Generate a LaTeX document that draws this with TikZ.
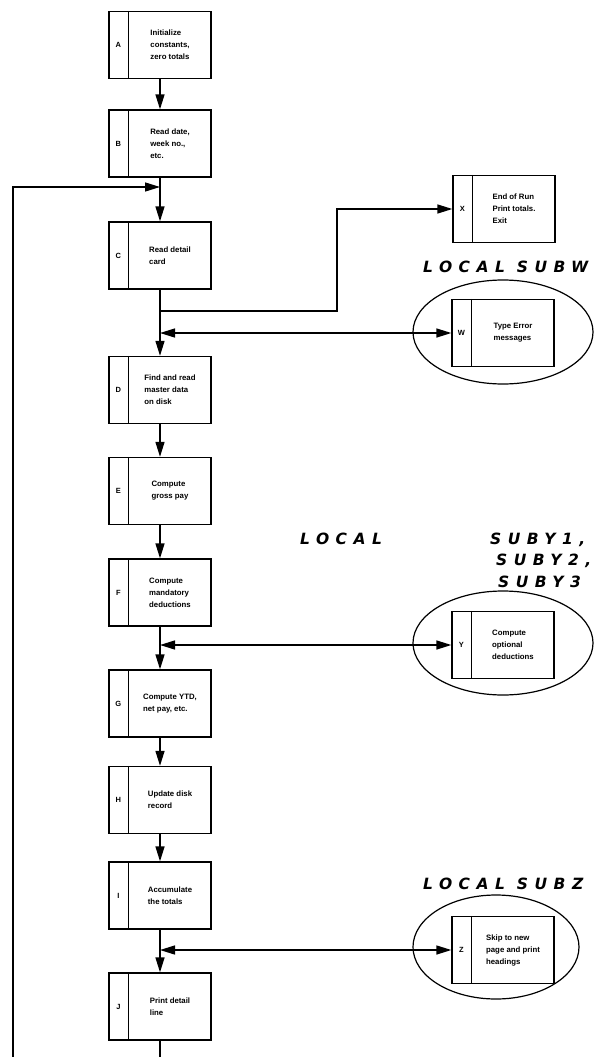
\documentclass[tikz,border=0pt]{standalone}
\usepackage{fontspec}
\setmainfont{Liberation Sans}
\newfontfamily\handfont[LetterSpace=42]{DejaVu Sans}
\usetikzlibrary{arrows.meta,positioning,shapes.geometric,calc}

% one process box: name, letter, x, y, text
\newcommand{\prcbox}[5]{%
  \node[prc] (#1) at (#3,#4) {};
  \draw[prcline] ([xshift=20pt]#1.north west) -- ([xshift=20pt]#1.south west);
  \node[tagtxt] (#1-tag) at ([xshift=10pt]#1.west) {#2};
  \node[prctxt] (#1-txt) at ([xshift=10pt]#1.center) {#5};
}

\begin{document}
\begin{tikzpicture}[x=1pt, y=-1pt, >={Triangle[length=15pt,width=9pt]},
    prc/.style={draw, line width=1.3pt, minimum width=102pt, minimum height=67pt, inner sep=0pt},
    prcline/.style={line width=1.2pt},
    tagtxt/.style={font=\bfseries\fontsize{7.5}{9}\selectfont, inner sep=0pt},
    prctxt/.style={font=\bfseries\fontsize{7.8}{12}\selectfont, align=left, inner sep=0pt},
    flow/.style={line width=1.4pt, ->},
    plain/.style={line width=1.4pt},
    twoway/.style={line width=1.4pt, <->},
    ring/.style={draw, ellipse, line width=1.2pt, inner sep=0pt},
    hand/.style={font=\handfont\bfseries\itshape\fontsize{15.5}{21}\selectfont, inner sep=0pt}]
    \useasboundingbox (0,0) rectangle (598,1057);
    \def\mx{160}    % main column
    \def\sx{503}    % side column

    % Main column
    \prcbox{A}{A}{\mx}{45}{Initialize\\constants,\\zero totals}
    \prcbox{B}{B}{\mx}{143.5}{Read date,\\week no.,\\etc.}
    \prcbox{C}{C}{\mx}{255.5}{Read detail\\card}
    \prcbox{D}{D}{\mx}{390}{Find and read\\master data\\on disk}
    \prcbox{E}{E}{\mx}{491}{Compute\\gross pay}
    \prcbox{F}{F}{\mx}{592.5}{Compute\\mandatory\\deductions}
    \prcbox{G}{G}{\mx}{703.5}{Compute YTD,\\net pay, etc.}
    \prcbox{H}{H}{\mx}{800}{Update disk\\record}
    \prcbox{I}{I}{\mx}{895.5}{Accumulate\\the totals}
    \prcbox{J}{J}{\mx}{1006.5}{Print detail\\line}

    % Side boxes
    \prcbox{X}{X}{504}{209}{End of Run\\Print totals.\\Exit}
    \node[ring, minimum width=180pt, minimum height=104pt] (Wring) at (503,332) {};
    \prcbox{W}{W}{\sx}{333}{Type Error\\messages}
    \node[ring, minimum width=180pt, minimum height=104pt] (Yring) at (503,643) {};
    \prcbox{Y}{Y}{\sx}{645}{Compute\\optional\\deductions}
    \node[ring, minimum width=166pt, minimum height=104pt] (Zring) at (496,947) {};
    \prcbox{Z}{Z}{\sx}{950}{Skip to new\\page and print\\headings}

    % Local subroutine labels
    \node[hand, anchor=base west] (subw) at (423,272) {LOCAL\hspace{12pt}SUBW};
    \node[hand, anchor=base west] (suby0) at (300,544) {LOCAL};
    \node[hand, anchor=base west] (suby1) at (490,544) {SUBY1,};
    \node[hand, anchor=base west] (suby2) at (496,565) {SUBY2,};
    \node[hand, anchor=base west] (suby3) at (498,587) {SUBY3};
    \node[hand, anchor=base west] (subz) at (423,889) {LOCAL\hspace{12pt}SUBZ};

    % Junctions on the main line
    \coordinate (loopIn) at (\mx,187);
    \coordinate (loopFoot) at (13,1057);
    \coordinate (jFoot) at (\mx,1057);
    \coordinate (xOut) at (\mx,311);
    \coordinate (xBend) at (337,311);

    % Main flow
    \draw[flow] (A.south) -- (B.north);
    \draw[flow] (B.south) -- (C.north);
    \draw[flow] (C.south) -- (D.north);
    \draw[flow] (D.south) -- (E.north);
    \draw[flow] (E.south) -- (F.north);
    \draw[flow] (F.south) -- (G.north);
    \draw[flow] (G.south) -- (H.north);
    \draw[flow] (H.south) -- (I.north);
    \draw[flow] (I.south) -- (J.north);
    \draw[plain] (J.south) -- (jFoot);

    % Loop back from the next page
    \draw[flow] (loopFoot) |- (loopIn);

    % End of run
    \draw[flow] (xOut) -- (xBend) |- (X.west);

    % Calls to local subroutines
    \draw[twoway] (W.west -| C.south) -- (W.west);
    \draw[twoway] (Y.west -| F.south) -- (Y.west);
    \draw[twoway] (Z.west -| I.south) -- (Z.west);
\end{tikzpicture}
\end{document}
